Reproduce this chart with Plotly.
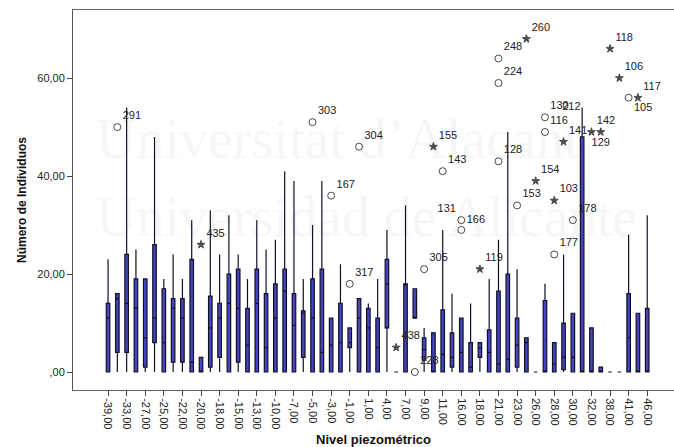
import plotly.graph_objects as go

# ---------------- data ----------------
categories = ["-39,00", "-36,00", "-33,00", "-30,00", "-27,00", "-26,00", "-25,00", "-24,00",
              "-22,00", "-21,00", "-20,00", "-19,00", "-18,00", "-16,00", "-15,00", "-14,00",
              "-13,00", "-11,00", "-10,00", "-8,00", "-7,00", "-6,00", "-5,00", "-4,00",
              "-3,00", "-2,00", "-1,00", "0,00", "1,00", "3,00", "4,00", "6,00", "7,00",
              "8,00", "9,00", "10,00", "11,00", "14,00", "16,00", "17,00", "18,00", "20,00",
              "21,00", "22,00", "23,00", "25,00", "26,00", "27,00", "28,00", "29,00", "30,00",
              "31,00", "32,00", "35,00", "38,00", "40,00", "41,00", "44,00", "46,00"]

lower_fence = [0, 0, 0, 0, 0, 0, 0, 0, 0, 0, 0, 0, 0, 0, 0, 0, 0, 0, 0, 0,
               0, 0, 0, 0, 0, 0, 0, 0, 0, 0, 0, 0, 0, 11, 0, 0, 0, 0, 0, 0,
               0, 0, 0, 0, 0, 0, 0, 0, 0, 0, 0, 0, 0, 0, 0, 0, 0, 0, 0]
q1 = [0, 4, 4, 0, 1, 6, 0, 2, 2, 0, 0, 1, 3, 0, 2, 0, 0, 0, 0, 0,
      0, 3, 0, 0, 0, 0, 5, 0, 0, 0, 9, 0, 0, 11, 2.4, 0, 0, 1, 0, 0,
      3, 0, 0, 0, 1, 0, 0, 0, 0, 0.5, 0, 0, 0, 0, 0, 0, 0, 0, 0]
median = [11, 15, 14, 13, 7, 11, 6, 13, 11, 2, 0, 9, 11, 14, 13, 5.5, 14, 5, 11, 16.5,
          9.5, 12, 11, 4, 5.5, 6, 6, 11, 9, 5, 18, 0, 18, 11, 4.6, 0, 3.6, 3, 4, 1,
          5, 4, 1.6, 2.6, 5.5, 6, 0, 0, 1.6, 3, 3, 0, 0, 0, 0, 0, 7, 0, 0]
q3 = [14, 16, 24, 19, 19, 26, 17, 15, 15, 23, 3, 15.5, 14, 20, 21, 13, 21, 16, 18, 21,
      16, 12.5, 19, 21, 11, 14, 9, 15, 13, 11, 23, 0, 18, 17, 7, 8, 12.7, 8, 11, 6,
      6, 8.6, 16.5, 20, 11, 7, 0, 14.6, 6, 10, 12, 48, 9, 1, 0, 0, 16, 12, 13]
upper_fence = [23, 16, 54, 25, 19, 48, 19, 24, 19, 31, 3, 33, 24, 32, 24, 19, 31, 25, 27, 41,
               39, 19, 30, 39, 11, 22, 9, 15, 14, 19, 29, 0, 34, 17, 9, 8, 29, 16, 11, 14,
               6, 19, 27, 49, 21, 7, 0, 18, 6, 24, 12, 54, 9, 1, 0, 0, 28, 12, 32]

# outliers: category index, value, symbol
out_idx = [1, 10, 22, 24, 26, 27, 31, 33, 34, 35, 36, 38, 38, 40, 42, 42, 42, 44, 45,
           46, 47, 47, 48, 48, 49, 50, 52, 53, 54, 55, 56, 57]
out_val = [50, 26, 51, 36, 18, 46, 5, 0, 21, 46, 41, 31, 29, 21, 43, 59, 64, 34, 68,
           39, 52, 49, 35, 24, 47, 31, 49, 49, 66, 60, 56, 56]
out_sym = ["o", "*", "o", "o", "o", "o", "*", "o", "o", "*", "o", "o", "o", "*", "o", "o", "o",
           "o", "*", "*", "o", "o", "*", "o", "*", "o", "*", "*", "*", "*", "o", "*"]

# case labels: category index, value, text, position
lab_idx = [1, 10, 22, 24, 26, 27, 31, 33, 34, 35, 36, 38, 38, 40, 42, 42, 42, 44, 45,
           46, 47, 47, 48, 48, 49, 50, 51, 52, 53, 54, 55, 56, 57]
lab_val = [50, 26, 51, 36, 18, 46, 5, 0, 21, 46, 41, 31, 31, 21, 43, 59, 64, 34, 68,
           39, 52, 49, 35, 24, 47, 31, 54, 49, 49, 66, 60, 56, 56]
lab_txt = ["291", "435", "303", "167", "317", "304", "438", "228", "305", "155", "143",
           "166", "131", "119", "128", "224", "248", "153", "260", "154", "130", "116",
           "103", "177", "141", "178", "212", "142", "129", "118", "106", "105", "117"]
lab_pos = ["top right", "top right", "top right", "top right", "top right", "top right",
           "top right", "top right", "top right", "top right", "top right", "middle right",
           "top left", "top right", "top right", "top right", "top right", "top right",
           "top right", "top right", "top right", "top right", "top right", "top right",
           "top right", "top right", "middle left", "top right", "bottom center", "top right",
           "top right", "bottom right", "top right"]

tick_vals = categories[::2]

FONT = "Liberation Sans, Arial, sans-serif"

fig = go.Figure()

# faint watermark (paper-positioned text)
for txt, yy in [("Universitat d\u2019Alacant", 0.66), ("Universidad de Alicante", 0.455)]:
    fig.add_annotation(text=txt, xref="paper", yref="paper", x=0.035, y=yy,
                       xanchor="left", yanchor="middle", showarrow=False,
                       font=dict(family="Liberation Serif, serif", size=56,
                                 color="rgba(0,0,0,0.035)"))

fig.add_trace(go.Box(
    x=categories, q1=q1, median=median, q3=q3,
    lowerfence=lower_fence, upperfence=upper_fence,
    width=0.38, whiskerwidth=0, boxpoints=False,
    fillcolor="#4444c4", line=dict(color="#111122", width=1.2),
    hoverinfo="skip", showlegend=False,
))

sym_map = {"o": "circle-open", "*": "star"}
fig.add_trace(go.Scatter(
    x=[categories[i] for i in out_idx], y=out_val, mode="markers",
    marker=dict(symbol=[sym_map[s] for s in out_sym],
                size=[7 if s == "o" else 6 for s in out_sym],
                color="#000000", line=dict(color="#000000", width=1)),
    hoverinfo="skip", showlegend=False,
))

fig.add_trace(go.Scatter(
    x=[categories[i] for i in lab_idx], y=lab_val, mode="markers+text",
    marker=dict(size=[1 if t == "212" else 7 for t in lab_txt], opacity=0),
    text=lab_txt, textposition=lab_pos,
    textfont=dict(family=FONT, size=11, color="#222222"),
    hoverinfo="skip", showlegend=False,
))

fig.update_layout(
    width=674, height=447,
    margin=dict(l=73, r=0, t=10, b=57),
    paper_bgcolor="white", plot_bgcolor="white",
    font=dict(family=FONT, size=11, color="#222222"),
    showlegend=False,
)

fig.update_xaxes(
    type="category", categoryorder="array", categoryarray=categories,
    range=[-3.77, 60.88],
    tickmode="array", tickvals=tick_vals, ticktext=tick_vals,
    tickangle=90, ticks="outside", ticklen=5, tickcolor="#444",
    showline=True, linecolor="#666", linewidth=1, mirror=True,
    showgrid=False, zeroline=False, automargin=False,
    tickfont=dict(size=11, color="#222"),
    title=dict(text="<b>Nivel piezométrico</b>", font=dict(size=13, color="#111"), standoff=6),
)

fig.update_yaxes(
    range=[-3.67, 73.9],
    tickmode="array", tickvals=[0, 20, 40, 60], ticktext=[",00", "20,00", "40,00", "60,00"],
    ticks="outside", ticklen=5, tickcolor="#444",
    showline=True, linecolor="#555", linewidth=1,
    showgrid=False, zeroline=False, automargin=False,
    tickfont=dict(size=11, color="#222"),
    title=dict(text="<b>Número de Individuos</b>", font=dict(size=12, color="#111"), standoff=8),
)

fig.write_html("out.html")
